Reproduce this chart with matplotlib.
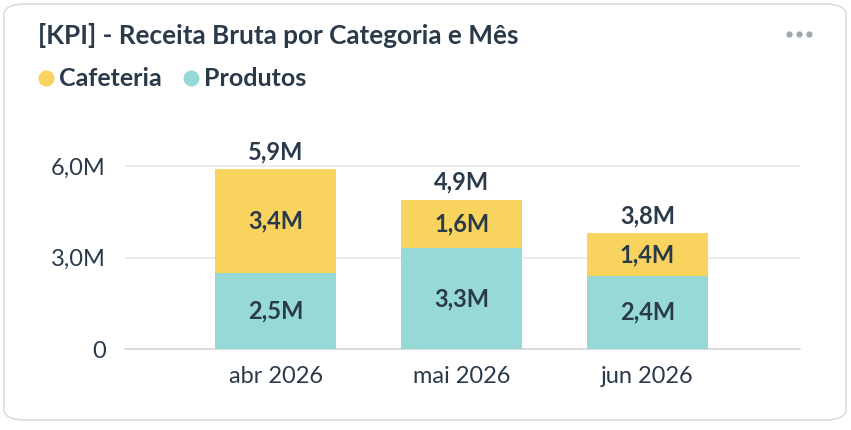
import numpy as np
import matplotlib.pyplot as plt
from matplotlib.patches import FancyBboxPatch
from matplotlib.lines import Line2D

plt.rcParams['font.family'] = ['Lato', 'DejaVu Sans']

# data (millions)
months = ['abr 2026', 'mai 2026', 'jun 2026']
produtos = [2.5, 3.3, 2.4]
cafeteria = [3.4, 1.6, 1.4]
totals = [5.9, 4.9, 3.8]
yticks = [0, 3, 6]
ytick_labels = ['0', '3,0M', '6,0M']

col_caf = '#F8D35E'
col_prod = '#97D9D7'
txt = '#2B3A4A'

W, H = 851, 430
fig = plt.figure(figsize=(W / 100, H / 100), dpi=100)

# card background
card = FancyBboxPatch((4 / W, 10 / H), 842 / W, 416 / H,
                      boxstyle='round,pad=0,rounding_size=0.025',
                      transform=fig.transFigure, facecolor='white',
                      edgecolor='#DCDCDC', linewidth=1.2, zorder=-5)
fig.patches.append(card)

ax = fig.add_axes([125 / W, (H - 349) / H, 675 / W, 229 / H])
ax.set_facecolor('none')
ax.set_zorder(2)
x = np.arange(len(months))
ax.bar(x, produtos, width=0.65, color=col_prod, zorder=3)
ax.bar(x, cafeteria, width=0.65, bottom=produtos, color=col_caf, zorder=3)

fmt = lambda v: ('%.1fM' % v).replace('.', ',')
for i in range(len(months)):
    ax.text(x[i], produtos[i] / 2, fmt(produtos[i]), ha='center', va='center',
            fontsize=17, fontweight='bold', color=txt, zorder=4)
    ax.text(x[i], produtos[i] + cafeteria[i] / 2, fmt(cafeteria[i]), ha='center',
            va='center', fontsize=17, fontweight='bold', color=txt, zorder=4)
    ax.text(x[i], totals[i] + 0.2, fmt(totals[i]), ha='center', va='bottom',
            fontsize=17, fontweight='bold', color=txt, zorder=4)

ax.set_xlim(-0.81, 2.82)
ax.set_ylim(0, 229 / 30.5)
ax.set_xticks(x)
ax.set_xticklabels(months, fontsize=17, color=txt)
ax.set_yticks(yticks)
ax.set_yticklabels(ytick_labels, fontsize=17, color=txt)
ax.tick_params(length=0, pad=14, axis='y')
ax.tick_params(length=0, pad=12, axis='x')
ax.grid(axis='y', color='#E9E9E9', linewidth=1.2, zorder=0)
for s in ['top', 'right', 'left']:
    ax.spines[s].set_visible(False)
ax.spines['bottom'].set_color('#D6D6D6')
ax.spines['bottom'].set_linewidth(1.2)

# title and legend
fig.text(38 / W, 1 - 35 / H, '[KPI] - Receita Bruta por Categoria e Mês',
         fontsize=18.8, fontweight='bold', color=txt, va='center', ha='left')
handles = [Line2D([], [], marker='o', linestyle='none', markersize=10.5, color=col_caf),
           Line2D([], [], marker='o', linestyle='none', markersize=10.5, color=col_prod)]
fig.legend(handles, ['Cafeteria', 'Produtos'], loc='center left',
           bbox_to_anchor=(8 / W, 1 - 79 / H), ncol=2, frameon=False,
           handletextpad=-0.05, columnspacing=0.55, handlelength=1.2,
           prop={'size': 18, 'weight': 'bold'}, labelcolor=txt)

# "..." menu
for dx in [789, 799, 809]:
    fig.add_artist(Line2D([dx / W], [1 - 34 / H], marker='o', markersize=3.5,
                          color='#A2A8B0', transform=fig.transFigure))

fig.savefig('out.png', dpi=100)
